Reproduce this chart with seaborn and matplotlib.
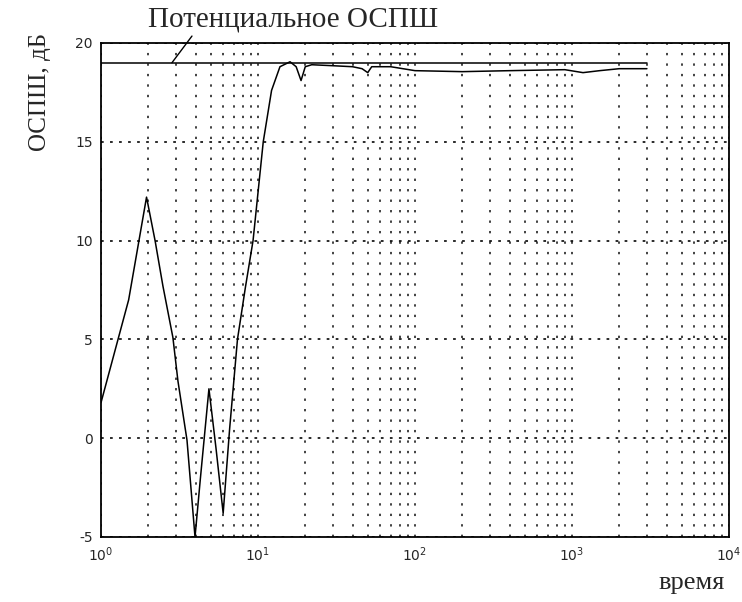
import numpy as np
import pandas as pd
import matplotlib
matplotlib.use("Agg")
import matplotlib.pyplot as plt
import seaborn as sns

# ---- data ----
time_vals = [1.0, 1.5, 1.95, 2.21, 2.48, 2.87, 3.09, 3.53, 3.97, 4.3, 4.87, 5.4,
             6.0, 6.6, 7.4, 8.3, 9.3, 10.8, 12.2, 13.8, 16.0, 17.5, 18.8, 20.0,
             22.0, 30.0, 40.0, 46.0, 50.0, 53.0, 70.0, 100.0, 200.0, 400.0,
             900.0, 1175.0, 1500.0, 2000.0, 3000.0]
snr_vals = [1.8, 7.0, 12.2, 10.0, 7.7, 5.1, 2.9, -0.1, -5.0, -2.0, 2.5, -0.5,
            -3.8, 0.5, 5.0, 7.6, 10.0, 15.0, 17.6, 18.8, 19.05, 18.8, 18.1, 18.8,
            18.9, 18.85, 18.8, 18.7, 18.5, 18.8, 18.8, 18.6, 18.55, 18.6,
            18.65, 18.5, 18.6, 18.7, 18.7]
potential_time = [1.0, 3000.0]
potential_snr = [19.0, 19.0]

y_ticks = [-5, 0, 5, 10, 15, 20]
x_ticks = [1, 10, 100, 1000, 10000]
x_tick_labels = [r"$10^0$", r"$10^1$", r"$10^2$", r"$10^3$", r"$10^4$"]

title_text = "Потенциальное ОСПШ"
ylabel_text = "ОСПШ, дБ"
xlabel_text = "время"

# ---- figure ----
sns.set_style("white")
plt.rcParams["font.family"] = ["DejaVu Sans"]

fig = plt.figure(figsize=(7.42, 6.02), dpi=100)
ax = fig.add_axes([101 / 742, 1 - 537 / 602, 628 / 742, 494 / 602])

df = pd.DataFrame({"t": time_vals, "snr": snr_vals})
df_pot = pd.DataFrame({"t": potential_time, "snr": potential_snr})

sns.lineplot(data=df, x="t", y="snr", sort=False, color="black", lw=1.1, ax=ax)
sns.lineplot(data=df_pot, x="t", y="snr", sort=False, color="black", lw=1.1, ax=ax)

ax.set_xscale("log")
ax.set_xlim(1, 10000)
ax.set_ylim(-5, 20)
ax.set_yticks(y_ticks)
ax.set_yticklabels([str(v) for v in y_ticks])
ax.set_xticks(x_ticks)
ax.set_xticklabels(x_tick_labels)
ax.set_xlabel("")
ax.set_ylabel("")

ax.tick_params(axis="both", which="major", direction="in", length=6, width=1,
               labelsize=10, top=False, right=False, pad=6)
ax.tick_params(axis="x", which="minor", direction="in", length=0)

# grid
ax.grid(False)
ax.xaxis.grid(True, which="both", color="black", linestyle=(0, (1.3, 4.5)), lw=1.3, alpha=0.8)
ax.yaxis.grid(True, which="major", color="black", linestyle=(0, (1.5, 3.5)), lw=1.3, alpha=0.9)

for s in ax.spines.values():
    s.set_color("black")
    s.set_linewidth(1.3)
    s.set_visible(True)

# annotation
ax.annotate(title_text, xy=(potential_time[0] * 2.83, potential_snr[0]),
            xytext=(47 / 628, 1.047), textcoords="axes fraction",
            ha="left", va="center", fontsize=21, family=["Liberation Serif"],
            arrowprops=dict(arrowstyle="-", color="black", lw=1.0,
                            relpos=(0.16, 0.0), shrinkA=0, shrinkB=0),
            annotation_clip=False)

fig.text(40 / 742, 1 - 92 / 602, ylabel_text, rotation=90, ha="center", va="center",
         fontsize=18, family=["Liberation Serif"])
fig.text(692 / 742, 1 - 583 / 602, xlabel_text, ha="center", va="center",
         fontsize=19, family=["Liberation Serif"])

fig.savefig("out.png", dpi=100)
